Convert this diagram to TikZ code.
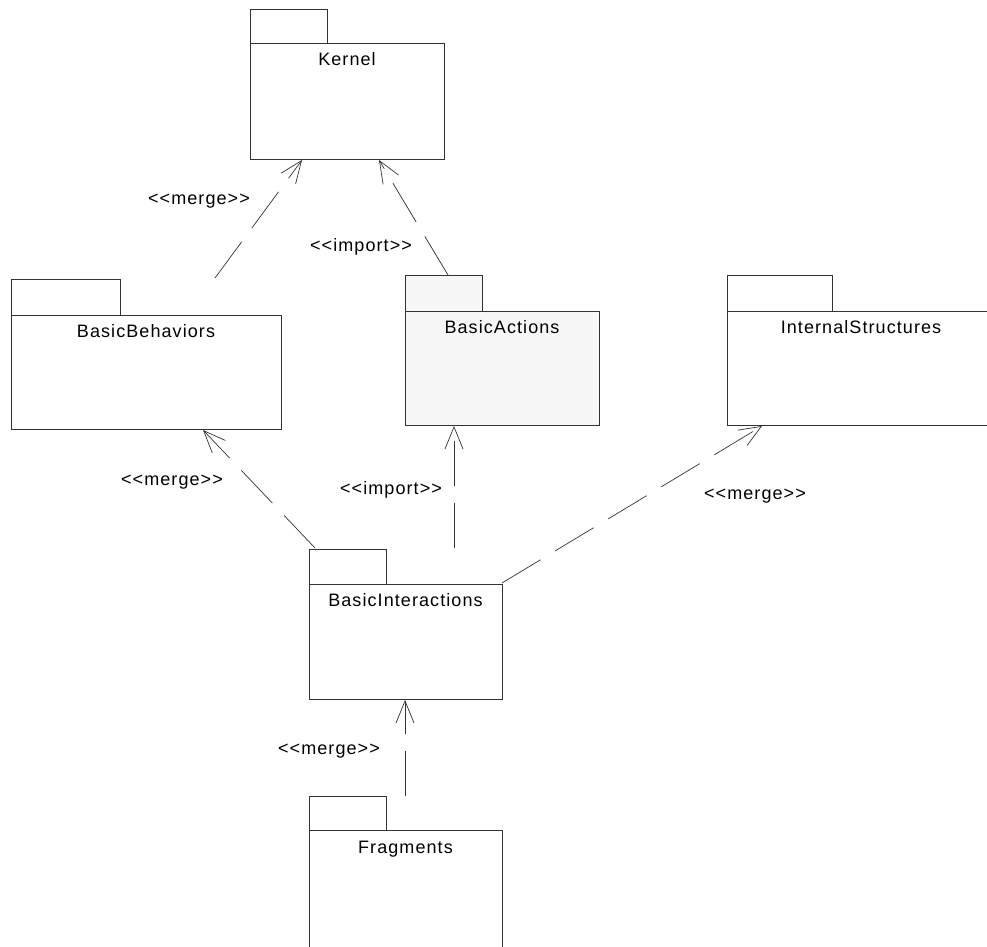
\documentclass[tikz,border=0pt]{standalone}
\usepackage{fontspec}
\setmainfont{Liberation Sans}
\usetikzlibrary{arrows.meta}
\begin{document}
\begin{tikzpicture}[x=1pt,y=-1pt,
  pkg/.style={draw=black!80, line width=0.8pt, fill=white, inner sep=0pt, anchor=north west},
  tabbox/.style={draw=black!80, line width=0.8pt, fill=white},
  grayfill/.style={fill=black!3},
  pkglabel/.style={anchor=base, inner sep=0pt, font=\fontsize{18}{22}\selectfont\addfontfeature{LetterSpace=6}},
  dep/.style={draw=black!80, line width=0.7pt, dash pattern=on 45pt off 17pt, -{Straight Barb[length=22pt,width=18pt]}},
  deplabel/.style={anchor=base, inner sep=0pt, font=\fontsize{18}{22}\selectfont\addfontfeature{LetterSpace=6}}]
\useasboundingbox (0,0) rectangle (987,946);
\begin{scope}
\clip (0,0) rectangle (987,946);
% Kernel
\draw[tabbox] (250,9) rectangle (327,43);
\node[pkg, minimum width=194pt, minimum height=116pt] (kernel) at (250,43) {};
\node[pkglabel] (kernelL) at (347,65) {Kernel};
% BasicBehaviors
\draw[tabbox] (11,279) rectangle (120,315);
\node[pkg, minimum width=270pt, minimum height=114pt] (behav) at (11,315) {};
\node[pkglabel] (behavL) at (146,337) {BasicBehaviors};
% BasicActions
\draw[tabbox, grayfill] (405,275) rectangle (482,311);
\node[pkg, grayfill, minimum width=194pt, minimum height=114pt] (actions) at (405,311) {};
\node[pkglabel] (actionsL) at (502,333) {BasicActions};
% InternalStructures
\draw[tabbox] (727,275) rectangle (832,311);
\node[pkg, minimum width=268pt, minimum height=114pt] (internal) at (727,311) {};
\node[pkglabel] (internalL) at (861,333) {InternalStructures};
% BasicInteractions
\draw[tabbox] (309,549) rectangle (386,584);
\node[pkg, minimum width=193pt, minimum height=115pt] (inter) at (309,584) {};
\node[pkglabel] (interL) at (405.5,606) {BasicInteractions};
% Fragments
\draw[tabbox] (309,796) rectangle (386,830);
\node[pkg, minimum width=193pt, minimum height=140pt] (frag) at (309,830) {};
\node[pkglabel] (fragL) at (405.5,853) {Fragments};
\end{scope}
% connector end points
\coordinate (k1) at (302,160);
\coordinate (k2) at (379,160);
\coordinate (b1) at (215,278);
\coordinate (a1) at (448,275);
\coordinate (b2) at (203,430);
\coordinate (i1) at (315,548);
\coordinate (a2) at (454,426);
\coordinate (i2) at (454,548);
\coordinate (s1) at (762,426);
\coordinate (i3) at (502,583);
\coordinate (i4) at (405,700);
\coordinate (f1) at (405,796);
% connectors
\draw[dep] (b1) -- (k1);
\draw[dep] (a1) -- (k2);
\draw[dep] (i1) -- (b2);
\draw[dep] (i2) -- (a2);
\draw[dep] (i3) -- (s1);
\draw[dep] (f1) -- (i4);
% labels
\node[deplabel] (l1) at (199,204) {<{}<merge>{}>};
\node[deplabel] (l2) at (361,251) {<{}<import>{}>};
\node[deplabel] (l3) at (172,485) {<{}<merge>{}>};
\node[deplabel] (l4) at (391,494) {<{}<import>{}>};
\node[deplabel] (l5) at (755,499) {<{}<merge>{}>};
\node[deplabel] (l6) at (329,754) {<{}<merge>{}>};
\end{tikzpicture}
\end{document}
